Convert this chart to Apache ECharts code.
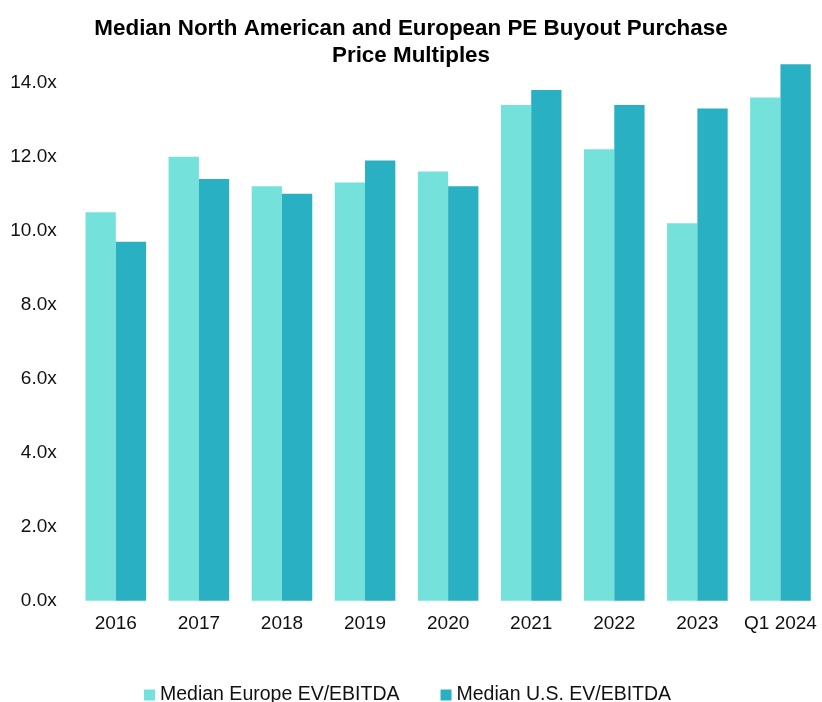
<!DOCTYPE html>
<html>
<head>
<meta charset="utf-8">
<script src="https://cdn.jsdelivr.net/npm/echarts@6/dist/echarts.min.js"></script>
<style>
    html, body { margin: 0; padding: 0; background: #fff; }
    #chart { width: 822px; height: 702px; }
</style>
</head>
<body>
<div id="chart"></div>
<script>
    // values
    var categories = ['2016', '2017', '2018', '2019', '2020', '2021', '2022', '2023', 'Q1 2024'];
    var europeValues = [10.5, 12.0, 11.2, 11.3, 11.6, 13.4, 12.2, 10.2, 13.6];
    var usValues = [9.7, 11.4, 11.0, 11.9, 11.2, 13.8, 13.4, 13.3, 14.5];
    var seriesNames = ['Median Europe EV/EBITDA', 'Median U.S. EV/EBITDA'];

    var chart = echarts.init(document.getElementById('chart'));
    chart.setOption({
        animation: false,
        title: {
            text: 'Median North American and European PE Buyout Purchase\nPrice Multiples',
            left: 'center',
            top: 10,
            textStyle: {
                fontFamily: 'Liberation Sans, Arial, sans-serif',
                fontSize: 22.4,
                fontWeight: 'bold',
                color: '#000',
                lineHeight: 27
            }
        },
        legend: {
            data: seriesNames,
            left: 139,
            top: 680,
            icon: 'rect',
            itemWidth: 11,
            itemHeight: 11,
            itemGap: 41,
            textStyle: {
                fontFamily: 'Liberation Sans, Arial, sans-serif',
                fontSize: 19.5,
                color: '#111'
            }
        },
        grid: {
            left: 74.25,
            width: 751.5,
            top: 45.7,
            height: 555
        },
        xAxis: {
            type: 'category',
            data: categories,
            axisLine: { show: false },
            axisTick: { show: false },
            axisLabel: {
                interval: 0,
                margin: 14,
                fontFamily: 'Liberation Sans, Arial, sans-serif',
                fontSize: 19,
                color: '#111'
            }
        },
        yAxis: {
            type: 'value',
            min: 0,
            max: 15,
            interval: 2,
            splitLine: { show: false },
            axisLine: { show: false },
            axisTick: { show: false },
            axisLabel: {
                showMaxLabel: false,
                margin: 17.5,
                fontFamily: 'Liberation Sans, Arial, sans-serif',
                fontSize: 19,
                color: '#111',
                formatter: function (v) { return v.toFixed(1) + 'x'; }
            }
        },
        series: [
            {
                name: seriesNames[0],
                type: 'bar',
                data: europeValues,
                barWidth: 30.3,
                barGap: '0%',
                itemStyle: { color: '#74E2DA' }
            },
            {
                name: seriesNames[1],
                type: 'bar',
                data: usValues,
                barWidth: 30.3,
                itemStyle: { color: '#2AB0C3' }
            }
        ]
    });
</script>
</body>
</html>
